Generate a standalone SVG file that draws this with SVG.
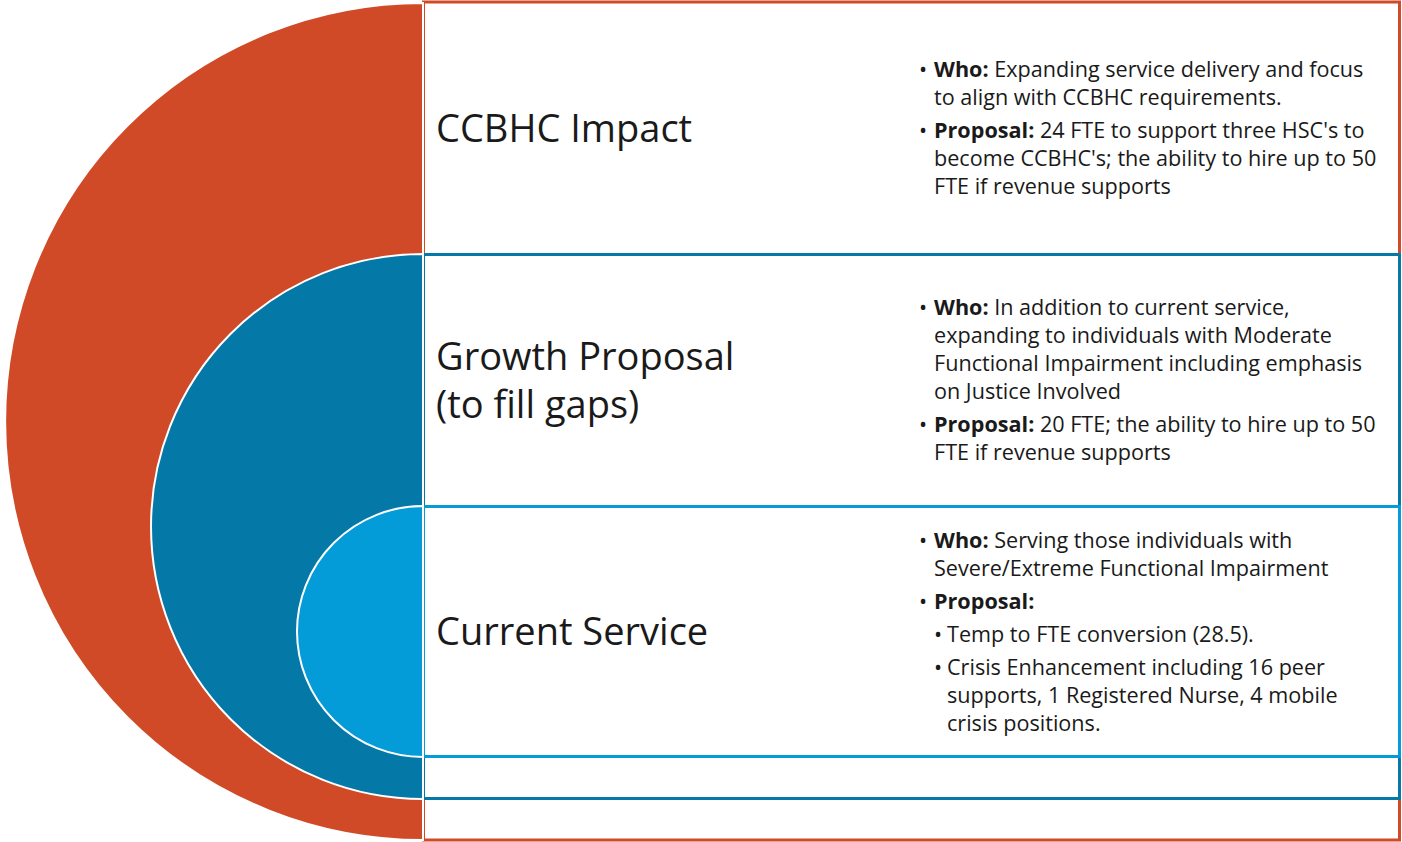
<svg xmlns="http://www.w3.org/2000/svg" width="1402" height="842" viewBox="0 0 1402 842">
<style>
.title{font-family:"Open Sans","Noto Sans",sans-serif;font-size:38px;fill:#1a1a1a}
.body{font-family:"Open Sans","Noto Sans",sans-serif;font-size:21.6px;fill:#1a1a1a}
.b{font-weight:bold}
</style>
<rect width="1402" height="842" fill="#ffffff"/>
<g id="ccbhc">
<rect x="423.5" y="2" width="976" height="838" fill="#ffffff" stroke="#D14A27" stroke-width="3"/>
<path d="M423 3 A418 418.5 0 0 0 423 840 Z" fill="#D14A27" stroke="#ffffff" stroke-width="2"/>
<text class="title" x="436" y="142">CCBHC Impact</text>
<text class="body" x="919" y="77">•</text>
<text class="body" x="934" y="77"><tspan class="b">Who:</tspan> Expanding service delivery and focus</text>
<text class="body" x="934" y="105">to align with CCBHC requirements.</text>
<text class="body" x="919" y="138">•</text>
<text class="body" x="934" y="138"><tspan class="b">Proposal:</tspan> 24 FTE to support three HSC's to</text>
<text class="body" x="934" y="166">become CCBHC's; the ability to hire up to 50</text>
<text class="body" x="934" y="194">FTE if revenue supports</text>
</g>
<g id="growth">
<rect x="423.5" y="254.5" width="976" height="544" fill="#ffffff" stroke="#0479A8" stroke-width="3"/>
<path d="M423 254 A272 272.5 0 0 0 423 799 Z" fill="#0479A8" stroke="#ffffff" stroke-width="2"/>
<text class="title" x="436" y="370">Growth Proposal</text>
<text class="title" x="436" y="418">(to fill gaps)</text>
<text class="body" x="919" y="315">•</text>
<text class="body" x="934" y="315"><tspan class="b">Who:</tspan> In addition to current service,</text>
<text class="body" x="934" y="343">expanding to individuals with Moderate</text>
<text class="body" x="934" y="371">Functional Impairment including emphasis</text>
<text class="body" x="934" y="399">on Justice Involved</text>
<text class="body" x="919" y="432">•</text>
<text class="body" x="934" y="432"><tspan class="b">Proposal:</tspan> 20 FTE; the ability to hire up to 50</text>
<text class="body" x="934" y="460">FTE if revenue supports</text>
</g>
<g id="current">
<rect x="423.5" y="506.5" width="976" height="250" fill="#ffffff" stroke="#049CD8" stroke-width="3"/>
<path d="M423 506 A126 125.5 0 0 0 423 757 Z" fill="#049CD8" stroke="#ffffff" stroke-width="2"/>
<text class="title" x="436" y="645">Current Service</text>
<text class="body" x="919" y="548">•</text>
<text class="body" x="934" y="548"><tspan class="b">Who:</tspan> Serving those individuals with</text>
<text class="body" x="934" y="576">Severe/Extreme Functional Impairment</text>
<text class="body" x="919" y="609">•</text>
<text class="body b" x="934" y="609">Proposal:</text>
<text class="body" x="934" y="642">•</text>
<text class="body" x="947" y="642">Temp to FTE conversion (28.5).</text>
<text class="body" x="934" y="675">•</text>
<text class="body" x="947" y="675">Crisis Enhancement including 16 peer</text>
<text class="body" x="947" y="703">supports, 1 Registered Nurse, 4 mobile</text>
<text class="body" x="947" y="731">crisis positions.</text>
</g>
<g id="connectors"></g>
</svg>
